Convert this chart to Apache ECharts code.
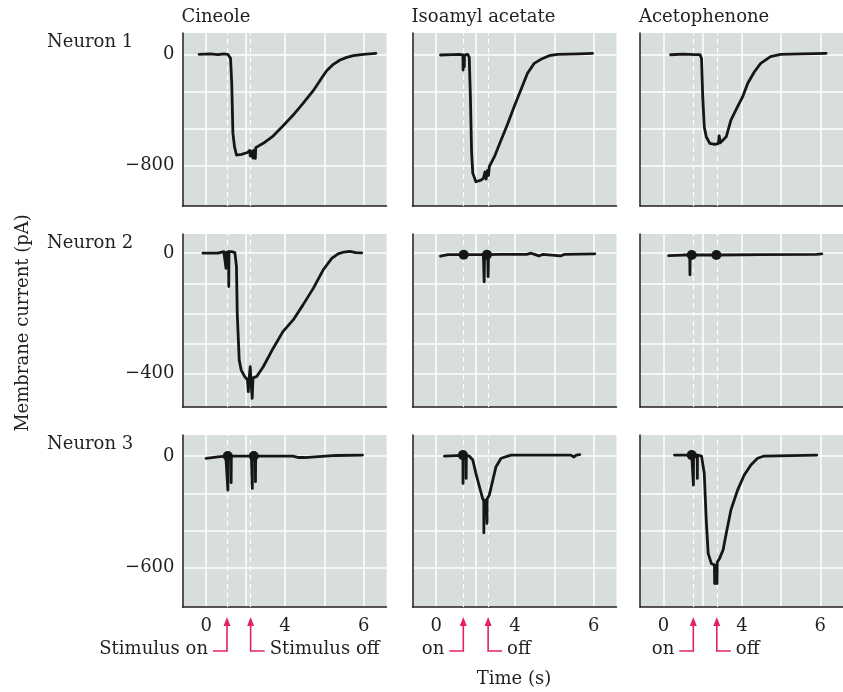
<!DOCTYPE html>
<html>
<head>
<meta charset="utf-8">
<title>Odorant responses</title>
<script src="https://cdn.jsdelivr.net/npm/echarts@6/dist/echarts.min.js"></script>
<style>
  html, body { margin: 0; padding: 0; background: #ffffff; }
  #chart { width: 843px; height: 692px; }
</style>
</head>
<body>
<div id="chart"></div>
<script>
// ---- labels ----
const columnTitles = ['Cineole', 'Isoamyl acetate', 'Acetophenone'];
const rowLabels = ['Neuron 1', 'Neuron 2', 'Neuron 3'];
const onLabels = ['Stimulus on', 'on', 'on'];
const offLabels = ['Stimulus off', 'off', 'off'];

// ---- stimulus timing per odorant (x axis units) ----
const stimOn = [0.53, 0.69, 0.76];
const stimOff = [1.13, 1.32, 1.36];

// ---- axis ticks ----
const xGridValues = [0, 1, 2, 3, 4];
const xTickValues = [0, 2, 4];
const xTickLabels = ['0', '4', '6'];
const yGridValues = [
  [0, -266.67, -533.33, -800],
  [0, -100, -200, -300, -400],
  [0, -200, -400, -600]
];
const yTickValues = [[0, -800], [0, -400], [0, -600]];
const yRanges = [[-1089, 153], [-512, 64], [-811, 113]];
const xRange = [-0.6, 4.58];

// ---- membrane current traces (pA) ----
const n1Cineole = [[-0.18,0],[0.1,3],[0.3,-3],[0.45,3],[0.55,0],[0.6,-10],[0.62,-29],[0.65,-207],[0.68,-566],[0.72,-663],[0.77,-723],[0.9,-718],[1.05,-705],[1.11,-690],[1.12,-730],[1.13,-695],[1.19,-745],[1.2,-690],[1.25,-748],[1.26,-670],[1.3,-660],[1.45,-639],[1.7,-587],[1.95,-515],[2.21,-436],[2.46,-352],[2.72,-261],[2.93,-172],[3.06,-118],[3.23,-72],[3.4,-41],[3.57,-22],[3.74,-10],[3.99,0],[4.31,7]];
const n1Isoamyl = [[0.11,-5],[0.4,-2],[0.6,0],[0.68,-5],[0.685,-113],[0.69,-5],[0.71,-5],[0.715,-90],[0.72,-5],[0.8,0],[0.84,-20],[0.87,-300],[0.9,-700],[0.93,-853],[1.01,-915],[1.14,-903],[1.2,-890],[1.24,-845],[1.27,-895],[1.3,-835],[1.33,-870],[1.35,-807],[1.48,-735],[1.65,-615],[1.82,-496],[1.98,-376],[2.15,-256],[2.32,-136],[2.49,-65],[2.66,-36],[2.87,-10],[3.08,0],[3.6,3],[3.97,7]];
const n1Acetophenone = [[0.18,-3],[0.5,2],[0.8,-2],[0.93,-2],[0.97,-30],[1.0,-300],[1.04,-520],[1.09,-592],[1.18,-639],[1.31,-647],[1.4,-640],[1.42,-585],[1.45,-635],[1.47,-628],[1.6,-592],[1.72,-472],[1.89,-376],[2.02,-304],[2.15,-208],[2.32,-125],[2.48,-65],[2.73,-17],[2.99,0],[3.5,3],[4.15,7]];

const n2Cineole = [[-0.08,0],[0.3,0],[0.45,5],[0.5,3],[0.505,-50],[0.51,3],[0.55,8],[0.57,5],[0.575,-111],[0.58,5],[0.65,5],[0.73,2],[0.77,-44],[0.79,-200],[0.84,-356],[0.89,-389],[0.98,-411],[1.05,-422],[1.07,-461],[1.09,-418],[1.12,-378],[1.14,-430],[1.17,-483],[1.19,-415],[1.28,-411],[1.45,-378],[1.7,-317],[1.95,-261],[2.21,-222],[2.46,-172],[2.72,-117],[2.97,-56],[3.19,-17],[3.35,-2],[3.5,4],[3.65,6],[3.8,2],[3.95,1]];
const n2Isoamyl = [[0.11,-10],[0.3,-5],[0.68,-5],[0.74,-5],[1.2,-5],[1.22,-95],[1.23,-5],[1.31,-5],[1.32,-78],[1.33,-5],[1.6,-4],[2.3,-4],[2.41,0],[2.5,-4],[2.61,-9],[2.7,-4],[3.16,-9],[3.25,-4],[4.03,-2]];
const n2Acetophenone = [[0.13,-8],[0.5,-6],[0.67,-6],[0.675,-72],[0.68,-6],[1.0,-6],[1.35,-6],[2.5,-5],[3.9,-4],[4.04,-2]];

const n3Cineole = [[0.0,-12],[0.3,-5],[0.5,0],[0.55,0],[0.553,-183],[0.557,0],[0.63,0],[0.635,-143],[0.64,0],[1.15,0],[1.17,0],[1.173,-174],[1.177,0],[1.25,0],[1.253,-138],[1.257,0],[1.6,0],[2.2,0],[2.35,-8],[2.5,-8],[2.55,0],[3.3,3],[3.97,5]];
const n3Isoamyl = [[0.21,0],[0.5,2],[0.68,3],[0.683,-147],[0.687,3],[0.76,3],[0.763,-120],[0.767,3],[0.84,0],[0.93,-21],[1.01,-93],[1.1,-165],[1.18,-228],[1.21,-240],[1.212,-412],[1.215,-240],[1.27,-235],[1.29,-240],[1.292,-362],[1.295,-230],[1.35,-210],[1.44,-129],[1.52,-57],[1.65,-12],[1.9,5],[3.42,5],[3.5,-5],[3.56,5],[3.65,8]];
const n3Acetophenone = [[0.28,5],[0.5,5],[0.72,5],[0.76,5],[0.763,-156],[0.767,5],[0.86,5],[0.863,-120],[0.867,5],[0.97,0],[1.04,-93],[1.09,-344],[1.14,-523],[1.22,-577],[1.3,-586],[1.305,-685],[1.31,-586],[1.36,-580],[1.365,-685],[1.37,-570],[1.43,-550],[1.52,-505],[1.6,-416],[1.72,-290],[1.89,-183],[2.06,-102],[2.23,-48],[2.4,-12],[2.57,0],[3.91,5]];

// heavy noise blobs at stimulus on/off
const n2IsoamylBlobs = [[0.70,-5],[1.29,-5]];
const n2AcetophenoneBlobs = [[0.72,-6],[1.35,-6]];
const n3CineoleBlobs = [[0.55,0],[1.21,0]];
const n3IsoamylBlobs = [[0.68,5]];
const n3AcetophenoneBlobs = [[0.72,5]];

const traces = [
  [n1Cineole, n1Isoamyl, n1Acetophenone],
  [n2Cineole, n2Isoamyl, n2Acetophenone],
  [n3Cineole, n3Isoamyl, n3Acetophenone]
];
const blobs = [
  [[], [], []],
  [[], n2IsoamylBlobs, n2AcetophenoneBlobs],
  [n3CineoleBlobs, n3IsoamylBlobs, n3AcetophenoneBlobs]
];

// ---- layout ----
const colLeft = [182.5, 412.5, 640];
const colWidth = [204, 204, 203];
const rowTop = [33, 234, 435];
const rowHeight = [173, 173, 172];

const FONT = 'DejaVu Serif';
const INK = '#231f20';
const TRACE = '#161616';
const PANEL_BG = '#d8dedb';
const ACCENT = '#e3245a';

const fmtY = v => (v < 0 ? '\u2212' + Math.abs(v) : String(v));

const grids = [], xAxes = [], yAxes = [], series = [];
for (let r = 0; r < 3; r++) {
  for (let c = 0; c < 3; c++) {
    const i = r * 3 + c;
    grids.push({
      left: colLeft[c], top: rowTop[r], width: colWidth[c], height: rowHeight[r],
      show: true, backgroundColor: PANEL_BG, borderWidth: 0, containLabel: false
    });
    xAxes.push({
      gridIndex: i, type: 'value', min: xRange[0], max: xRange[1],
      axisLine: { show: true, onZero: false, lineStyle: { color: INK, width: 1.5 } },
      axisTick: { show: false, customValues: xGridValues },
      splitLine: { show: true, lineStyle: { color: '#ffffff', width: 1.5 } },
      axisLabel: {
        show: r === 2, customValues: xTickValues, margin: 10,
        formatter: v => xTickLabels[xTickValues.indexOf(v)],
        fontFamily: FONT, fontSize: 18, color: INK
      }
    });
    yAxes.push({
      gridIndex: i, type: 'value', min: yRanges[r][0], max: yRanges[r][1],
      axisLine: { show: true, onZero: false, lineStyle: { color: INK, width: 1.5 } },
      axisTick: { show: false, customValues: yGridValues[r] },
      splitLine: { show: true, lineStyle: { color: '#ffffff', width: 1.5 } },
      axisLabel: {
        show: c === 0, customValues: yTickValues[r], margin: 8,
        formatter: fmtY, fontFamily: FONT, fontSize: 18, color: INK
      }
    });
    // stimulus on/off dashed guides, kept beneath the trace
    series.push({
      type: 'line', xAxisIndex: i, yAxisIndex: i, data: [], z: 1, silent: true,
      markLine: {
        silent: true, z: 1, symbol: ['none', 'none'], label: { show: false },
        lineStyle: { color: '#ffffff', width: 1.2, type: [5, 4] },
        animation: false,
        data: [{ xAxis: stimOn[c] }, { xAxis: stimOff[c] }]
      }
    });
    series.push({
      type: 'line', xAxisIndex: i, yAxisIndex: i, data: traces[r][c], z: 10,
      showSymbol: false, symbol: 'none', smooth: false, animation: false,
      lineStyle: { color: TRACE, width: 2.8, join: 'round', cap: 'round' }
    });
    if (blobs[r][c].length) {
      series.push({
        type: 'scatter', xAxisIndex: i, yAxisIndex: i, data: blobs[r][c], z: 11,
        symbol: 'circle', symbolSize: 10, itemStyle: { color: TRACE, opacity: 1 },
        animation: false, silent: true
      });
    }
  }
}

const chart = echarts.init(document.getElementById('chart'), null, { renderer: 'canvas' });

const textEls = [];
columnTitles.forEach((t, c) => textEls.push({
  type: 'text', left: colLeft[c] - 1, top: 8,
  style: { text: t, font: '18px "' + FONT + '"', fill: INK }
}));
rowLabels.forEach((t, r) => textEls.push({
  type: 'text', left: 47, top: rowTop[r],
  style: { text: t, font: '18px "' + FONT + '"', fill: INK }
}));
textEls.push({
  type: 'text', x: 23, y: 323, rotation: Math.PI / 2,
  style: { text: 'Membrane current (pA)', font: '18px "' + FONT + '"', fill: INK, align: 'center', verticalAlign: 'middle' }
});
textEls.push({
  type: 'text', x: 514, y: 679,
  style: { text: 'Time (s)', font: '18px "' + FONT + '"', fill: INK, align: 'center', verticalAlign: 'middle' }
});

chart.setOption({
  animation: false,
  grid: grids, xAxis: xAxes, yAxis: yAxes, series: series,
  graphic: textEls
});

// stimulus arrows under the bottom row, placed from the stimulus times
const arrowEls = [];
const tipY = 617, elbowY = 651;
for (let c = 0; c < 3; c++) {
  const xOn = chart.convertToPixel({ gridIndex: 6 + c }, [stimOn[c], 0])[0];
  const xOff = chart.convertToPixel({ gridIndex: 6 + c }, [stimOff[c], 0])[0];
  [[xOn, -1, onLabels[c]], [xOff, 1, offLabels[c]]].forEach(([x, dir, label]) => {
    arrowEls.push({
      type: 'polyline', silent: true,
      shape: { points: [[x, tipY + 6], [x, elbowY], [x + dir * 14, elbowY]] },
      style: { stroke: ACCENT, lineWidth: 1.6, fill: null }
    });
    arrowEls.push({
      type: 'polygon', silent: true,
      shape: { points: [[x, tipY], [x - 3.5, tipY + 9], [x + 3.5, tipY + 9]] },
      style: { fill: ACCENT }
    });
    arrowEls.push({
      type: 'text', silent: true, x: x + dir * 19, y: elbowY - 2,
      style: {
        text: label, font: '18px "' + FONT + '"', fill: INK,
        align: dir < 0 ? 'right' : 'left', verticalAlign: 'middle'
      }
    });
  });
}
chart.setOption({ graphic: textEls.concat(arrowEls) });
</script>
</body>
</html>
